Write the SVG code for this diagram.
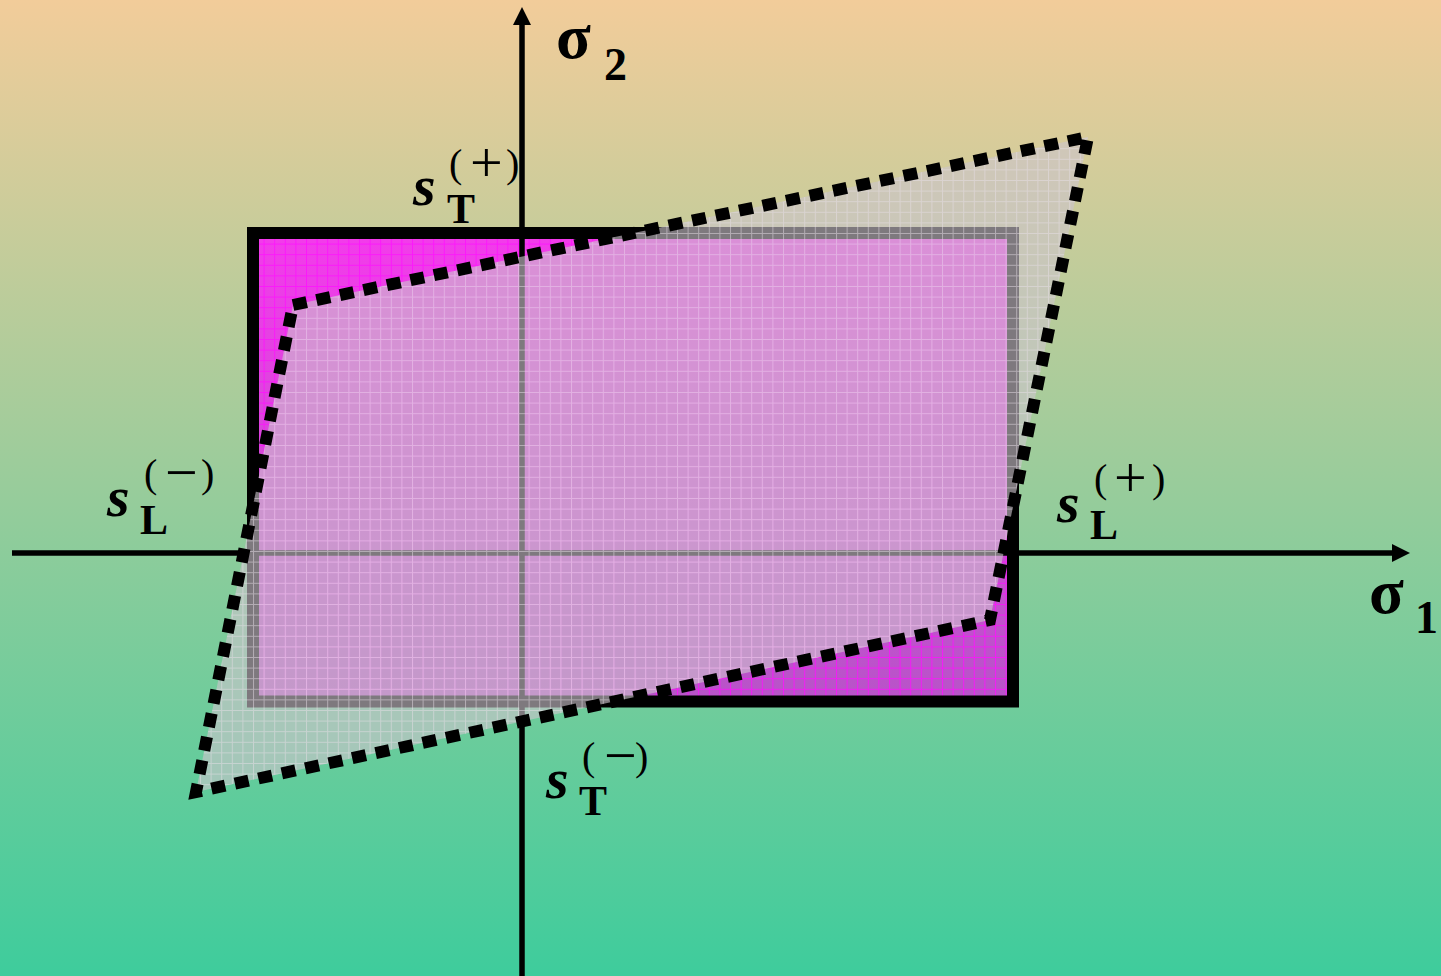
<svg xmlns="http://www.w3.org/2000/svg" width="1441" height="976" viewBox="0 0 1441 976">
<defs>
<linearGradient id="bg" x1="0" y1="0" x2="0" y2="976" gradientUnits="userSpaceOnUse">
<stop offset="0" stop-color="#F2CC9A"/>
<stop offset="1" stop-color="#3ECC9C"/>
</linearGradient>
<linearGradient id="mag" x1="0" y1="239" x2="0" y2="696" gradientUnits="userSpaceOnUse">
<stop offset="0" stop-color="#F23CEA"/>
<stop offset="1" stop-color="#B854C8"/>
</linearGradient>
<pattern id="magGrid" width="10.6" height="10.6" patternUnits="userSpaceOnUse" x="253" y="233">
<path d="M0 0.5H10.6M0.5 0V10.6" stroke="#FF10FF" stroke-width="1" fill="none" opacity="0.8"/>
</pattern>
<pattern id="greyGrid" width="10.6" height="10.6" patternUnits="userSpaceOnUse" x="253" y="233">
<path d="M0 0.5H10.6M0.5 0V10.6" stroke="#E8E0E8" stroke-width="1" fill="none" opacity="0.5"/>
</pattern>
<marker id="arrow" viewBox="0 0 18 18" refX="0" refY="9" markerWidth="18" markerHeight="18" markerUnits="userSpaceOnUse" orient="auto">
<path d="M0 0L18 9L0 18Z" fill="#000"/>
</marker>
<style>
.axis{stroke:#000;stroke-width:5.5;fill:none}
.big{font-family:"Liberation Serif","Times New Roman",serif;font-weight:bold;font-style:italic;font-size:58px;fill:#000}
.sub{font-family:"Liberation Serif","Times New Roman",serif;font-weight:bold;font-size:42px;fill:#000}
.sup{font-family:"Liberation Serif","Times New Roman",serif;font-size:40px;fill:#000}
.op{font-size:58px}
.sig{font-family:"Liberation Serif","Times New Roman",serif;font-weight:bold;font-size:64px;fill:#000}
.num{font-family:"Liberation Serif","Times New Roman",serif;font-weight:bold;font-size:46px;fill:#000}
</style>
</defs>
<rect id="background" x="0" y="0" width="1441" height="976" fill="url(#bg)"/>
<g id="rectangle">
<rect x="253" y="233" width="760" height="468.5" fill="url(#mag)"/>
<rect x="253" y="233" width="760" height="468.5" fill="url(#magGrid)"/>
<rect x="253" y="233" width="760" height="468.5" fill="none" stroke="#000" stroke-width="12"/>
</g>
<g id="axes">
<line class="axis" x1="522" y1="976" x2="522" y2="25" marker-end="url(#arrow)"/>
<line class="axis" x1="12" y1="553" x2="1392" y2="553" marker-end="url(#arrow)"/>
</g>
<g id="parallelogram">
<path d="M293 305L1088 137L990 620L196 792Z" fill="#CCC4CC" fill-opacity="0.62"/>
<path d="M293 305L1088 137L990 620L196 792Z" fill="url(#greyGrid)"/>
<path d="M293 305L1088 137L990 620L196 792Z" fill="none" stroke="#000" stroke-width="12" stroke-dasharray="14 10" stroke-linejoin="miter"/>
</g>
<g id="label-sT-plus">
<text class="big" x="413" y="205">s</text>
<text class="sub" x="447" y="223">T</text>
<text class="sup"><tspan x="449" y="177">(</tspan><tspan class="op" x="470" y="182">+</tspan><tspan x="506" y="177">)</tspan></text>
</g>
<g id="label-sL-minus">
<text class="big" x="107" y="516">s</text>
<text class="sub" x="140" y="534">L</text>
<text class="sup"><tspan x="144" y="487">(</tspan><tspan class="op" x="165" y="492">−</tspan><tspan x="201" y="487">)</tspan></text>
</g>
<g id="label-sL-plus">
<text class="big" x="1057" y="522">s</text>
<text class="sub" x="1090" y="539">L</text>
<text class="sup"><tspan x="1094" y="492">(</tspan><tspan class="op" x="1114" y="497">+</tspan><tspan x="1152" y="492">)</tspan></text>
</g>
<g id="label-sT-minus">
<text class="big" x="546" y="798">s</text>
<text class="sub" x="579" y="815">T</text>
<text class="sup"><tspan x="582" y="770">(</tspan><tspan class="op" x="604" y="775">−</tspan><tspan x="635" y="770">)</tspan></text>
</g>
<g id="label-sigma2">
<text class="sig" x="556" y="58">σ</text>
<text class="num" x="604" y="80">2</text>
</g>
<g id="label-sigma1">
<text class="sig" x="1369" y="613">σ</text>
<text class="num" x="1415" y="633">1</text>
</g>
</svg>
